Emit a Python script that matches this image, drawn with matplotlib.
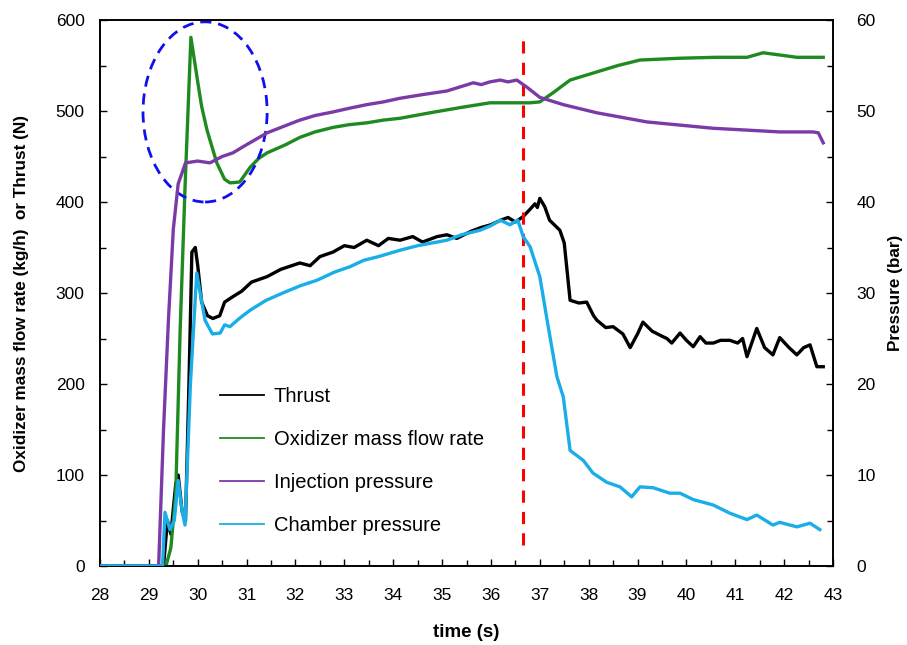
import matplotlib
matplotlib.use("Agg")
import matplotlib.pyplot as plt
from matplotlib.lines import Line2D
from matplotlib.patches import Ellipse
from matplotlib.ticker import MultipleLocator

plt.rcParams['font.family'] = ['Liberation Sans', 'DejaVu Sans']

# thrust (N)
t_thrust = [28, 29.3, 29.38, 29.45, 29.55, 29.6, 29.68, 29.75, 29.82, 29.88, 29.95, 30.0,
            30.08, 30.2, 30.31, 30.45, 30.55, 30.72, 30.9, 31.1, 31.42, 31.7, 32.09, 32.3,
            32.5, 32.77, 33.0, 33.2, 33.46, 33.7, 33.9, 34.14, 34.4, 34.6, 34.9, 35.1, 35.3,
            35.6, 35.8, 36.0, 36.2, 36.35, 36.5, 36.66, 36.8, 36.9, 36.95, 37.0, 37.1, 37.2,
            37.41, 37.5, 37.62, 37.8, 37.96, 38.1, 38.17, 38.35, 38.5, 38.7, 38.85, 39.0,
            39.11, 39.3, 39.52, 39.6, 39.7, 39.87, 40.0, 40.14, 40.28, 40.4, 40.55, 40.7,
            40.89, 41.05, 41.15, 41.24, 41.44, 41.6, 41.77, 41.91, 42.1, 42.26, 42.4, 42.53,
            42.67, 42.8]
thrust = [0, 0, 50, 35, 90, 100, 60, 50, 200, 345, 350, 330,
          290, 275, 272, 275, 290, 296, 302, 312, 318, 326, 333, 330,
          340, 345, 352, 350, 358, 352, 360, 358, 362, 356, 362, 364, 360,
          368, 372, 375, 380, 383, 378, 384, 392, 398, 394, 404, 395, 380,
          369, 355, 292, 289, 290, 275, 270, 262, 263, 255, 240, 255,
          268, 258, 252, 250, 245, 256, 248, 241, 252, 245, 245, 248,
          248, 245, 250, 230, 261, 240, 232, 251, 240, 232, 240, 243,
          219, 219]

# oxidizer mass flow rate (kg/h)
t_ox = [28, 29.35, 29.45, 29.55, 29.64, 29.74, 29.86, 29.92, 30.0, 30.08, 30.19, 30.39,
        30.55, 30.66, 30.86, 31.07, 31.25, 31.42, 31.8, 32.09, 32.4, 32.77, 33.1, 33.46,
        33.8, 34.14, 34.75, 35.4, 35.98, 36.8, 37.0, 37.27, 37.62, 38.17, 38.6, 39.05,
        39.87, 40.6, 41.24, 41.57, 42.26, 42.8]
oxidizer = [0, 0, 20, 80, 259, 416, 581, 560, 532, 505, 479, 443,
            425, 421, 422, 438, 448, 454, 463, 471, 477, 482, 485, 487,
            490, 492, 498, 504, 509, 509, 510, 520, 534, 543, 550, 556,
            558, 559, 559, 564, 559, 559]

# injection pressure (bar)
t_inj = [28, 29.2, 29.3, 29.4, 29.5, 29.6, 29.75, 30.0, 30.25, 30.5, 30.72, 31.0, 31.42,
         31.8, 32.09, 32.4, 32.77, 33.1, 33.46, 33.8, 34.14, 34.6, 35.1, 35.4, 35.64, 35.8,
         35.98, 36.19, 36.35, 36.53, 36.74, 37.0, 37.48, 38.17, 39.19, 40.55, 41.24, 41.91,
         42.59, 42.7, 42.8]
injection = [0, 0, 15, 27, 37, 42, 44.3, 44.5, 44.3, 45, 45.4, 46.3, 47.6,
             48.4, 49.0, 49.5, 49.9, 50.3, 50.7, 51.0, 51.4, 51.8, 52.2, 52.7, 53.1, 52.9,
             53.2, 53.4, 53.2, 53.4, 52.6, 51.5, 50.7, 49.8, 48.8, 48.1, 47.9, 47.7,
             47.7, 47.6, 46.5]

# chamber pressure (bar)
t_ch = [28, 29.28, 29.33, 29.43, 29.52, 29.6, 29.68, 29.74, 29.85, 29.98, 30.05, 30.15,
        30.3, 30.46, 30.55, 30.66, 30.85, 31.07, 31.4, 31.74, 32.1, 32.44, 32.8, 33.12,
        33.4, 33.7, 34.14, 34.5, 34.8, 35.1, 35.4, 35.78, 36.0, 36.19, 36.39, 36.55,
        36.66, 36.8, 37.0, 37.15, 37.35, 37.48, 37.62, 37.89, 38.09, 38.37, 38.64, 38.88,
        39.05, 39.32, 39.66, 39.87, 40.14, 40.55, 40.89, 41.24, 41.44, 41.77, 41.91, 42.26,
        42.53, 42.73]
chamber = [0, 0, 5.9, 4.0, 5.0, 9.4, 6.0, 4.5, 20, 32.2, 30, 27,
           25.5, 25.6, 26.5, 26.3, 27.2, 28.1, 29.2, 30.0, 30.8, 31.4, 32.3, 32.9,
           33.6, 34.0, 34.7, 35.2, 35.5, 35.8, 36.4, 36.9, 37.4, 38.0, 37.5, 38.0,
           36.2, 35.1, 31.8, 27.0, 20.8, 18.6, 12.7, 11.6, 10.2, 9.2, 8.7, 7.6,
           8.7, 8.6, 8.0, 8.0, 7.3, 6.7, 5.8, 5.1, 5.6, 4.5, 4.8, 4.3,
           4.7, 4.0]

# markers drawn on the chart
event_time = 36.66
event_span = (23, 578)
peak_center = (30.15, 499)
peak_size = (2.54, 198)

c_thrust = '#000000'
c_ox = '#1f8a1f'
c_inj = '#7a3aa8'
c_ch = '#1aaee8'

fig = plt.figure(figsize=(9.07, 6.45), dpi=100)
ax = fig.add_axes([100 / 907, 1 - 566 / 645, 733 / 907, 546 / 645])
ax2 = ax.twinx()

lw = 2.4
ax.plot(t_thrust, thrust, color=c_thrust, lw=lw, zorder=3)
ax2.plot(t_inj, injection, color=c_inj, lw=lw, zorder=3)
ax.plot(t_ox, oxidizer, color=c_ox, lw=lw, zorder=4)
ax2.plot(t_ch, chamber, color=c_ch, lw=lw, zorder=5)

ax.vlines(event_time, event_span[0], event_span[1], colors='#ff0000',
          linestyles=(0, (4, 3)), lw=2.2, zorder=6)
ax.add_patch(Ellipse(peak_center, peak_size[0], peak_size[1], fill=False,
                     ec='#1010ee', lw=2.0, ls=(0, (4, 2.5)), zorder=6))

ax.set_xlim(28, 43)
ax.set_ylim(0, 600)
ax2.set_ylim(0, 60)
ax.xaxis.set_major_locator(MultipleLocator(1))
ax.xaxis.set_minor_locator(MultipleLocator(0.5))
ax.yaxis.set_major_locator(MultipleLocator(100))
ax.yaxis.set_minor_locator(MultipleLocator(50))
ax2.yaxis.set_major_locator(MultipleLocator(10))
ax2.yaxis.set_minor_locator(MultipleLocator(5))

for a in (ax, ax2):
    a.tick_params(which='both', direction='in', labelsize=12.5, width=1)
    a.tick_params(which='major', length=5)
    a.tick_params(which='minor', length=4)
    for s in a.spines.values():
        s.set_linewidth(1.2)
ax.tick_params(axis='x', which='major', pad=16)
ax.tick_params(axis='y', pad=11)
ax2.tick_params(axis='y', pad=17)

ax.set_xlabel('time (s)', fontsize=13.5, fontweight='bold', labelpad=15)
ax.set_ylabel('Oxidizer mass flow rate (kg/h)  or Thrust (N)', fontsize=12.3,
              fontweight='bold', labelpad=19)
ax2.set_ylabel('Pressure (bar)', fontsize=12.3, fontweight='bold', labelpad=9)

handles = [Line2D([], [], color=c_thrust, lw=1.3),
           Line2D([], [], color=c_ox, lw=1.3),
           Line2D([], [], color=c_inj, lw=1.3),
           Line2D([], [], color=c_ch, lw=1.3)]
labels = ['Thrust', 'Oxidizer mass flow rate', 'Injection pressure', 'Chamber pressure']
leg = ax2.legend(handles, labels, loc='upper left', bbox_to_anchor=(0.164, 0.328),
                 frameon=False, fontsize=14.5, handlelength=2.15, handletextpad=0.5,
                 labelspacing=1.2, borderpad=0, borderaxespad=0)

fig.savefig('out.png', dpi=100)
